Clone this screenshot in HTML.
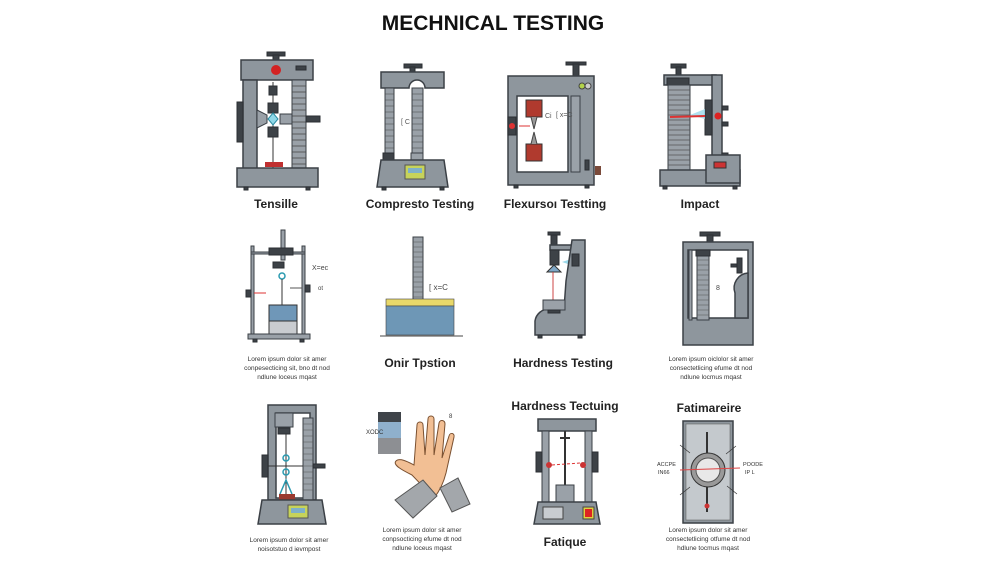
<!DOCTYPE html>
<html><head><meta charset="utf-8"><style>
html,body{margin:0;padding:0;background:#fff}
svg{display:block}
text{font-family:"Liberation Sans",sans-serif}
.f{fill:#8e969d;stroke:#3b4046;stroke-width:1.5}
.d{fill:#3d4247;stroke:#2b2f33;stroke-width:1}
.l{fill:#9aa1a8;stroke:#3b4046;stroke-width:1}
.t{font-weight:bold;fill:#222;font-size:12px;text-anchor:middle}
.s{fill:#333;font-size:6.5px;text-anchor:middle}
</style></head><body>
<svg width="1000" height="561" viewBox="0 0 1000 561" xmlns="http://www.w3.org/2000/svg">
<rect width="1000" height="561" fill="#fff"/>
<text x="493" y="30" text-anchor="middle" font-weight="bold" font-size="21" fill="#111">MECHNICAL TESTING</text>

<!-- Tensile -->
<rect class="d" x="267" y="52" width="18" height="4"/><rect class="d" x="273" y="55" width="6" height="6"/>
<rect class="f" x="241" y="60" width="72" height="20"/>
<circle cx="276" cy="70" r="5" fill="#d32222"/><rect class="d" x="296" y="66" width="10" height="4"/>
<rect class="f" x="243" y="80" width="14" height="90"/>
<rect class="l" x="292" y="80" width="14" height="90"/>
<g stroke="#444" stroke-width="0.7"><path d="M292 86h14M292 92h14M292 98h14M292 104h14M292 110h14M292 116h14M292 122h14M292 128h14M292 134h14M292 140h14M292 146h14M292 152h14M292 158h14M292 164h14"/></g>
<rect class="d" x="237" y="102" width="6" height="40"/>
<line x1="273" y1="82" x2="273" y2="168" stroke="#333"/>
<rect class="d" x="269" y="86" width="8" height="9"/><rect class="d" x="268" y="103" width="10" height="10"/><rect class="d" x="268" y="127" width="10" height="10"/>
<path d="M257 110l10 5v8l-10 5z" class="l"/>
<path d="M273 113l5 6-5 6-5-6z" fill="#8fd8e8" stroke="#2a8aa0"/>
<rect class="l" x="280" y="114" width="12" height="10"/><rect class="d" x="306" y="116" width="14" height="6"/>
<rect x="265" y="162" width="18" height="5" fill="#c03030"/>
<rect class="f" x="237" y="168" width="81" height="19"/>
<rect class="d" x="244" y="187" width="4" height="3"/><rect class="d" x="306" y="187" width="4" height="3"/>
<text class="t" x="276" y="208">Tensille</text>

<!-- Compression -->
<rect class="d" x="404" y="64" width="18" height="4"/><rect class="d" x="410" y="67" width="5" height="6"/>
<path class="f" d="M381 72h63v16h-19a8 8 0 0 0-16 0h-28z"/>
<rect class="l" x="385" y="88" width="9" height="70"/><rect class="l" x="412" y="88" width="11" height="70"/>
<g stroke="#444" stroke-width="0.6"><path d="M385 94h9M385 100h9M385 106h9M385 112h9M385 118h9M385 124h9M385 130h9M385 136h9M385 142h9M385 148h9M412 94h11M412 100h11M412 106h11M412 112h11M412 118h11M412 124h11M412 130h11M412 136h11M412 142h11M412 148h11"/></g>
<text x="401" y="124" font-size="7" fill="#555">[ C</text>
<rect class="d" x="383" y="153" width="11" height="7"/><rect class="l" x="411" y="153" width="12" height="7"/>
<path class="f" d="M381 160h63l4 27h-71z"/>
<rect x="405" y="165" width="20" height="14" fill="#c7d35a" stroke="#555"/><rect x="408" y="168" width="14" height="5" fill="#7fb0c8"/>
<rect class="d" x="382" y="187" width="4" height="3"/><rect class="d" x="440" y="187" width="4" height="3"/>
<text class="t" x="420" y="208">Compresto Testing</text>

<!-- Flexural -->
<rect class="d" x="566" y="62" width="20" height="3"/><rect class="d" x="573" y="64" width="6" height="12"/>
<path class="f" fill-rule="evenodd" d="M508 76h86v109h-86zM517 96v76h51v-76z"/>
<rect class="l" x="571" y="96" width="9" height="76"/>
<circle cx="582" cy="86" r="3" fill="#b3d34a" stroke="#444"/><circle cx="588" cy="86" r="3" fill="#ccc" stroke="#444"/>
<rect x="526" y="100" width="16" height="17" fill="#b03a2e" stroke="#333"/><rect x="526" y="144" width="16" height="17" fill="#b03a2e" stroke="#333"/>
<path d="M531 117l3 12 3-12M531 144l3-12 3 12" fill="#999" stroke="#444"/>
<rect class="d" x="508" y="117" width="8" height="18"/><circle cx="512" cy="126" r="3" fill="#d33"/>
<line x1="519" y1="126" x2="530" y2="126" stroke="#d33"/>
<text x="545" y="118" font-size="7" fill="#555">Ci</text><text x="556" y="117" font-size="7" fill="#555">[ x=C</text>
<rect class="d" x="585" y="160" width="4" height="10"/><rect x="595" y="166" width="6" height="9" fill="#7a4a3a"/>
<rect class="d" x="514" y="185" width="4" height="3"/><rect class="d" x="585" y="185" width="4" height="3"/>
<text class="t" x="555" y="208">Flexursoı Testting</text>

<!-- Impact -->
<rect class="d" x="671" y="64" width="15" height="4"/><rect class="d" x="676" y="67" width="5" height="9"/>
<rect class="f" x="664" y="75" width="52" height="10"/>
<rect class="d" x="667" y="78" width="22" height="7"/>
<rect class="f" x="712" y="75" width="10" height="100"/>
<rect class="l" x="668" y="85" width="22" height="95"/>
<g stroke="#555" stroke-width="0.7"><path d="M668 90h22M668 95h22M668 100h22M668 105h22M668 110h22M668 115h22M668 120h22M668 125h22M668 130h22M668 135h22M668 140h22M668 145h22M668 150h22M668 155h22M668 160h22M668 165h22M668 170h22M668 175h22"/></g>
<rect class="d" x="705" y="100" width="7" height="35"/><circle cx="718" cy="116" r="3.5" fill="#d22"/>
<path d="M690 115l15-6v10z" fill="#9ad8ea" opacity=".8"/><line x1="670" y1="117" x2="705" y2="116" stroke="#d33" stroke-width="2"/>
<rect class="d" x="722" y="106" width="6" height="4"/><rect class="d" x="722" y="122" width="6" height="4"/><rect class="d" x="722" y="153" width="6" height="4"/>
<rect class="f" x="660" y="170" width="80" height="16"/><rect class="f" x="706" y="155" width="34" height="28"/>
<rect x="714" y="162" width="12" height="6" fill="#c33" stroke="#333"/>
<rect class="d" x="663" y="186" width="4" height="3"/><rect class="d" x="733" y="186" width="4" height="3"/>
<text class="t" x="700" y="208">Impact</text>

<!-- Row 2 col1 -->
<rect class="l" x="281" y="230" width="4" height="30"/>
<rect class="l" x="251" y="246" width="3" height="88"/><rect class="l" x="302" y="246" width="3" height="88"/>
<rect class="l" x="251" y="252" width="54" height="2"/>
<rect class="d" x="269" y="248" width="24" height="7"/><rect class="d" x="273" y="262" width="11" height="6"/>
<circle cx="282" cy="276" r="3" fill="none" stroke="#2a9ab0" stroke-width="1.5"/><line x1="282" y1="279" x2="282" y2="305" stroke="#333"/>
<rect class="d" x="246" y="290" width="5" height="7"/><line x1="254" y1="293" x2="266" y2="293" stroke="#d33"/>
<rect class="d" x="305" y="285" width="5" height="7"/><line x1="290" y1="288" x2="302" y2="288" stroke="#555"/>
<text x="312" y="270" font-size="7" fill="#444">X=ec</text><text x="318" y="290" font-size="6" fill="#444">ot</text>
<rect x="269" y="305" width="28" height="16" fill="#6f97b8" stroke="#333"/><rect x="269" y="321" width="28" height="13" fill="#c9ccd0" stroke="#333"/>
<rect class="l" x="248" y="334" width="62" height="5"/>
<rect class="d" x="253" y="339" width="4" height="3"/><rect class="d" x="300" y="339" width="4" height="3"/>
<text class="s" x="287" y="361">Lorem ipsum dolor sit amer</text><text class="s" x="287" y="370">conpesecticing sit, bno dt nod</text><text class="s" x="287" y="379">ndlune loceus mqast</text>

<!-- Onir -->
<rect class="l" x="413" y="237" width="10" height="68"/>
<g stroke="#555" stroke-width="0.6"><path d="M413 242h10M413 247h10M413 252h10M413 257h10M413 262h10M413 267h10M413 272h10M413 277h10M413 282h10M413 287h10M413 292h10M413 297h10"/></g>
<text x="429" y="290" font-size="8" fill="#444">[ x=C</text>
<rect x="386" y="299" width="68" height="7" fill="#e8d86a" stroke="#444" stroke-width=".6"/>
<rect x="386" y="306" width="68" height="29" fill="#6e97b6" stroke="#444" stroke-width=".6"/>
<line x1="380" y1="336" x2="463" y2="336" stroke="#444"/>
<text class="t" x="420" y="367">Onir Tpstion</text>

<!-- Hardness -->
<rect class="d" x="548" y="232" width="12" height="3"/><rect class="d" x="551" y="235" width="6" height="10"/>
<rect class="f" x="550" y="245" width="25" height="5"/>
<rect class="d" x="550" y="250" width="9" height="15"/>
<path d="M547 272l7-7 7 7z" fill="#7fa8c8" stroke="#333"/>
<path d="M562 262l15-5v10z" fill="#9ad8ea"/>
<path class="f" d="M572 240h13v95h-50v-14a14 14 0 0 1 14-12h15l2-28z"/>
<rect class="d" x="572" y="254" width="7" height="12"/>
<line x1="553" y1="272" x2="553" y2="308" stroke="#c44"/>
<rect class="l" x="543" y="300" width="22" height="10"/><rect class="d" x="548" y="310" width="12" height="3"/>
<rect class="d" x="538" y="335" width="4" height="3"/><rect class="d" x="578" y="335" width="4" height="3"/>
<text class="t" x="563" y="367">Hardness Testing</text>

<!-- Row2 col4 -->
<rect class="d" x="700" y="232" width="20" height="4"/><rect class="d" x="707" y="235" width="6" height="8"/>
<path class="f" fill-rule="evenodd" d="M683 242h70v103h-70zM688 250v68h60v-68z"/>
<path class="f" d="M735 318v-25a15 15 0 0 1 13-20v45z"/>
<rect class="l" x="689" y="250" width="3" height="70"/>
<rect class="l" x="697" y="250" width="12" height="70"/>
<g stroke="#555" stroke-width="0.6"><path d="M697 255h12M697 260h12M697 265h12M697 270h12M697 275h12M697 280h12M697 285h12M697 290h12M697 295h12M697 300h12M697 305h12M697 310h12M697 315h12"/></g>
<rect class="d" x="696" y="250" width="14" height="6"/>
<rect class="d" x="737" y="258" width="5" height="15"/><rect class="d" x="731" y="264" width="6" height="3"/>
<text x="716" y="290" font-size="7" fill="#444">8</text>
<text class="s" x="711" y="361">Lorem ipsum oiclolor sit amer</text><text class="s" x="711" y="370">consectetlicing efume dt nod</text><text class="s" x="711" y="379">ndlune locmus mqast</text>

<!-- Row3 col1 -->
<path class="f" fill-rule="evenodd" d="M268 405h48v95h-48zM276 413v85h34v-85z"/>
<rect class="l" x="275" y="413" width="18" height="14"/><rect class="d" x="278" y="428" width="12" height="6"/>
<rect class="l" x="303" y="418" width="10" height="82"/>
<g stroke="#555" stroke-width="0.6"><path d="M303 424h10M303 430h10M303 436h10M303 442h10M303 448h10M303 454h10M303 460h10M303 466h10M303 472h10M303 478h10M303 484h10M303 490h10"/></g>
<line x1="286" y1="434" x2="286" y2="500" stroke="#333"/>
<circle cx="286" cy="458" r="3" fill="none" stroke="#2a9ab0" stroke-width="1.5"/><circle cx="286" cy="472" r="3" fill="none" stroke="#2a9ab0" stroke-width="1.5"/>
<path d="M280 494l6-14 6 14" fill="none" stroke="#2a9ab0" stroke-width="1.5"/>
<rect class="d" x="262" y="455" width="6" height="22"/><line x1="268" y1="466" x2="303" y2="466" stroke="#333"/>
<rect class="d" x="313" y="464" width="12" height="4"/>
<rect x="279" y="494" width="16" height="6" fill="#9a3a30"/>
<path class="f" d="M262 500h60l4 24h-68z"/>
<rect x="288" y="505" width="20" height="13" fill="#c7d35a" stroke="#555"/><rect x="291" y="508" width="14" height="5" fill="#7fb0c8"/>
<text class="s" x="289" y="542">Lorem ipsum dolor sit amer</text><text class="s" x="289" y="551">noisotstuo d ievmpost</text>

<!-- Hand -->
<rect x="378" y="412" width="23" height="10" fill="#3f4449"/><rect x="378" y="422" width="23" height="16" fill="#8fb0cc"/><rect x="378" y="438" width="23" height="16" fill="#8d8f93"/>
<text x="366" y="434" font-size="6" fill="#333">XODC</text>
<path d="M412 475c-8-4-20-10-16-14s14 2 18 4l3-40c0-4 6-4 6 0l2 30 3-36c0-4 6-4 6 0l0 36 5-32c1-4 6-3 6 1l-3 34 7-22c1-4 6-3 5 1l-8 36c-3 12-8 20-12 25z" fill="#f2bf94" stroke="#7a5030"/>
<path d="M395 500l28-20 14 16-24 22z" fill="#a3a7ab" stroke="#555"/><path d="M440 488l18-10 12 26-18 8z" fill="#a3a7ab" stroke="#555"/>
<text x="449" y="418" font-size="6" fill="#333">8</text>
<text class="s" x="422" y="532">Lorem ipsum dolor sit amer</text><text class="s" x="422" y="541">conpsocticing efume dt nod</text><text class="s" x="422" y="550">ndlune loceus mqast</text>

<!-- Row3 col3 -->
<text class="t" x="565" y="410">Hardness Tectuing</text>
<rect class="f" x="538" y="419" width="58" height="12"/>
<rect class="l" x="542" y="431" width="7" height="72"/><rect class="l" x="585" y="431" width="7" height="72"/>
<line x1="565" y1="431" x2="565" y2="485" stroke="#333" stroke-width="2"/><line x1="560" y1="438" x2="570" y2="438" stroke="#333" stroke-width="2"/>
<rect class="d" x="536" y="452" width="6" height="20"/><rect class="d" x="592" y="452" width="6" height="20"/>
<circle cx="549" cy="465" r="3" fill="#c33"/><circle cx="583" cy="465" r="3" fill="#c33"/>
<line x1="552" y1="465" x2="580" y2="463" stroke="#d33" stroke-dasharray="3 2"/>
<rect class="l" x="556" y="485" width="18" height="17"/>
<path class="f" d="M538 502h58l4 22h-66z"/>
<rect x="543" y="507" width="20" height="12" fill="#c8ccd0" stroke="#444"/><rect x="583" y="507" width="11" height="12" fill="#e0d040" stroke="#444"/><rect x="585" y="509" width="7" height="8" fill="#d22"/>
<text class="t" x="565" y="546">Fatique</text>

<!-- Row3 col4 -->
<text class="t" x="709" y="412">Fatimareire</text>
<rect class="f" x="683" y="421" width="50" height="102" fill="#a6adb3"/>
<rect x="686" y="424" width="44" height="96" fill="#c4c9cd" stroke="#555" stroke-width=".5"/>
<line x1="707" y1="432" x2="707" y2="512" stroke="#333" stroke-width="2"/>
<circle cx="708" cy="470" r="17" fill="#999" stroke="#333"/><circle cx="708" cy="470" r="12" fill="#e8e8e8" stroke="#555"/>
<line x1="680" y1="470" x2="740" y2="468" stroke="#d44"/>
<circle cx="707" cy="506" r="2.5" fill="#c33"/>
<g stroke="#333" stroke-width=".7"><path d="M680 445l10 8M736 446l-10 8M680 495l10-8M737 494l-10-8"/></g>
<text x="657" y="466" font-size="5.5" fill="#333">ACCPE</text><text x="658" y="474" font-size="5.5" fill="#333">IN66</text>
<text x="743" y="466" font-size="5.5" fill="#333">POODE</text><text x="745" y="474" font-size="5.5" fill="#333">IP L</text>
<text class="s" x="708" y="532">Lorem ipsum dolor sit amer</text><text class="s" x="708" y="541">consectetlicing otfume dt nod</text><text class="s" x="708" y="550">hdlune tocmus mqast</text>
</svg>
</body></html>
